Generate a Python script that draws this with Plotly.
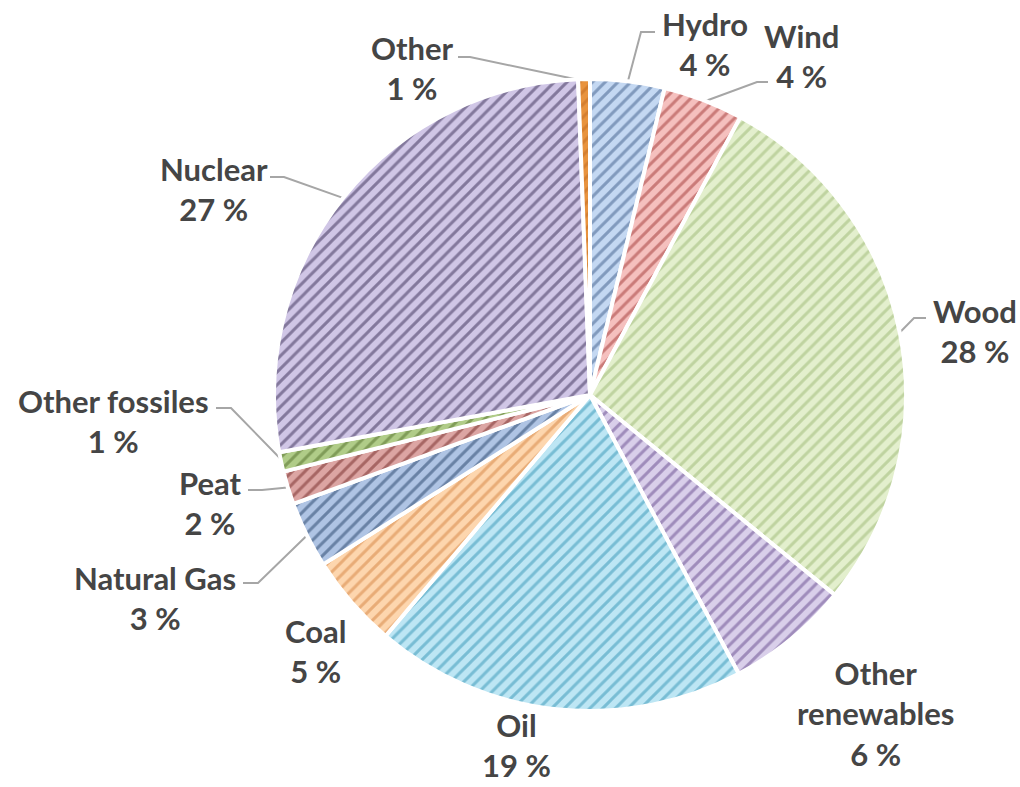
import math
import plotly.graph_objects as go

# ---------------- data ----------------
labels = ["Hydro", "Wind", "Wood", "Other renewables", "Oil", "Coal",
          "Natural Gas", "Peat", "Other fossiles", "Nuclear", "Other"]
values = [3.8, 4.1, 28.0, 6.3, 19.0, 4.8, 3.4, 1.7, 1.0, 27.3, 0.6]

# ---------------- style ----------------
W, H = 1020, 787
CX, CY, R = 590, 395, 316
bg_colors = ["#c4d8f2", "#f5c0be", "#e3efcd", "#d9cfea", "#bde6f4", "#fdd6ae",
             "#afc4e4", "#dca5a3", "#b0cc88", "#d0c6e6", "#e8933e"]
fg_colors = ["#3d5b88", "#a03533", "#9cb874", "#65498c", "#3493b4", "#d48240",
             "#243f66", "#722826", "#4f6c28", "#352a52", "#c06a20"]
TEXT_COLOR = "#454545"
LINE_COLOR = "#a6a6a6"
FONT = "Lato, Carlito, Calibri, sans-serif"
FS = 31

label_text = {"Other renewables": "Other<br>renewables"}
label_pos = {
    "Hydro": (705, 44), "Wind": (801, 56), "Wood": (975, 331),
    "Other renewables": (875, 713), "Oil": (516, 745), "Coal": (315, 651),
    "Natural Gas": (155, 598), "Peat": (210, 503), "Other fossiles": (113, 421),
    "Nuclear": (214, 189), "Other": (412, 68),
}
# leader lines: (start point near text, elbow point)
leaders = {
    "Hydro": ((655, 32), (641, 32)),
    "Wind": ((768, 82), (757, 82)),
    "Wood": ((926, 318), (914, 318)),
    "Nuclear": ((270, 177), (284, 177)),
    "Other fossiles": ((216, 408), (231, 408)),
    "Peat": ((248, 490), (262, 490)),
    "Natural Gas": ((243, 583), (258, 583)),
    "Other": ((458, 57), (470, 57)),
}

fig = go.Figure()

fig.add_trace(go.Pie(
    labels=labels, values=values, sort=False, direction="clockwise", rotation=0,
    textinfo="none", hoverinfo="label+percent", showlegend=False,
    marker=dict(colors=bg_colors, line=dict(color="white", width=4),
                pattern=dict(shape="/", fgcolor=fg_colors, size=9, solidity=0.33,
                             fillmode="overlay")),
    domain=dict(x=[(CX - R) / W, (CX + R) / W],
                y=[(H - CY - R) / H, (H - CY + R) / H]),
))

total = sum(values)
cum = 0.0
for lab, v in zip(labels, values):
    mid = (cum + v / 2) / total * 2 * math.pi
    cum += v
    ex = CX + (R - 2) * math.sin(mid)
    ey = CY - (R - 2) * math.cos(mid)
    if lab in leaders:
        (sx, sy), (bx, by) = leaders[lab]
        fig.add_trace(go.Scatter(x=[sx, bx, ex], y=[sy, by, ey], mode="lines",
                                 line=dict(color=LINE_COLOR, width=2),
                                 hoverinfo="skip", showlegend=False))
    px, py = label_pos[lab]
    txt = f"{label_text.get(lab, lab)}<br>{round(v)} %"
    fig.add_annotation(x=px, y=py, xref="x", yref="y", text=txt, showarrow=False,
                       xanchor="center", yanchor="middle", align="center",
                       borderpad=0,
                       font=dict(family=FONT, size=FS, color=TEXT_COLOR, weight="bold"))

fig.update_layout(
    width=W, height=H, margin=dict(l=0, r=0, t=0, b=0),
    paper_bgcolor="white", plot_bgcolor="rgba(0,0,0,0)",
    xaxis=dict(range=[0, W], visible=False, domain=[0, 1], fixedrange=True),
    yaxis=dict(range=[H, 0], visible=False, domain=[0, 1], fixedrange=True),
)

fig.write_html("out.html")
